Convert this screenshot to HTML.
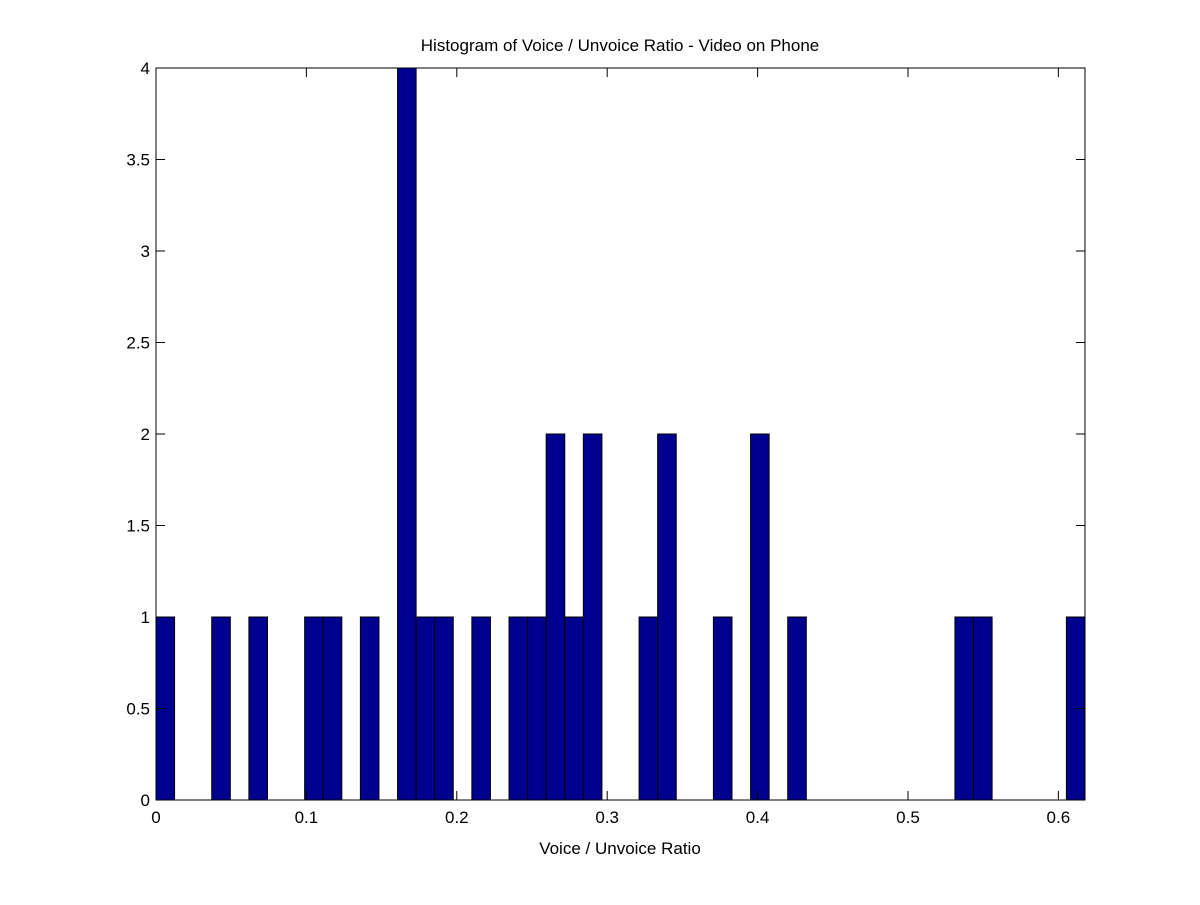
<!DOCTYPE html>
<html><head><meta charset="utf-8"><style>
html,body{margin:0;padding:0;background:#fff;}
svg text{font-family:"Liberation Sans",Arial,sans-serif;fill:#000;}
</style></head><body>
<svg id="chart" width="1200" height="900" xmlns="http://www.w3.org/2000/svg">
<rect width="1200" height="900" fill="#fff"/>
<text x="620" y="51" font-size="17" text-anchor="middle">Histogram of Voice / Unvoice Ratio - Video on Phone</text>
<text x="620" y="854" font-size="17" text-anchor="middle">Voice / Unvoice Ratio</text>
<g id="bars"></g>
<g id="axes"></g>
</svg>
<script>
const counts = [1,0,0,1,0,1,0,0,1,1,0,1,0,4,1,1,0,1,0,1,1,2,1,2,0,0,1,2,0,0,1,0,2,0,1,0,0,0,0,0,0,0,0,1,1,0,0,0,0,1];
const xMin = 0, xMax = 0.6177;
const yMin = 0, yMax = 4;
const xTicks = [0,0.1,0.2,0.3,0.4,0.5,0.6];
const xTickLabels = ["0","0.1","0.2","0.3","0.4","0.5","0.6"];
const yTicks = [0,0.5,1,1.5,2,2.5,3,3.5,4];
const yTickLabels = ["0","0.5","1","1.5","2","2.5","3","3.5","4"];

const L=156,R=1085,T=68,B=800;
const NS="http://www.w3.org/2000/svg";
const xs=v=>L+(v-xMin)/(xMax-xMin)*(R-L);
const ys=v=>B-(v-yMin)/(yMax-yMin)*(B-T);
function mk(tag,attrs,parent){const e=document.createElementNS(NS,tag);for(const k in attrs)e.setAttribute(k,attrs[k]);parent.appendChild(e);return e;}
const bars=document.getElementById('bars'), axes=document.getElementById('axes');
const bw=(xMax-xMin)/counts.length;
counts.forEach((c,i)=>{
  if(c<=0)return;
  const x0=xs(xMin+i*bw), x1=xs(xMin+(i+1)*bw);
  const r=mk('rect',{x:x0,y:ys(c),width:x1-x0,height:ys(0)-ys(c),fill:'#00008f',stroke:'#000','stroke-width':1},bars);
  
  
});
const frame=mk('rect',{x:L,y:T,width:R-L,height:B-T,fill:'none',stroke:'#000','stroke-width':1},axes);


xTicks.forEach((v,i)=>{
  const x=xs(v);
  mk('line',{x1:x,x2:x,y1:B,y2:B-9,stroke:'#000'},axes);
  mk('line',{x1:x,x2:x,y1:T,y2:T+9,stroke:'#000'},axes);
  const t=mk('text',{x:x,y:B+23,'font-size':17,'text-anchor':'middle'},axes);
  t.textContent=xTickLabels[i];
  
  
});
yTicks.forEach((v,i)=>{
  const y=ys(v);
  mk('line',{x1:L,x2:L+9,y1:y,y2:y,stroke:'#000'},axes);
  mk('line',{x1:R,x2:R-9,y1:y,y2:y,stroke:'#000'},axes);
  const t=mk('text',{x:L-6,y:y+6,'font-size':17,'text-anchor':'end'},axes);
  t.textContent=yTickLabels[i];
  
  
});
</script>
</body></html>
